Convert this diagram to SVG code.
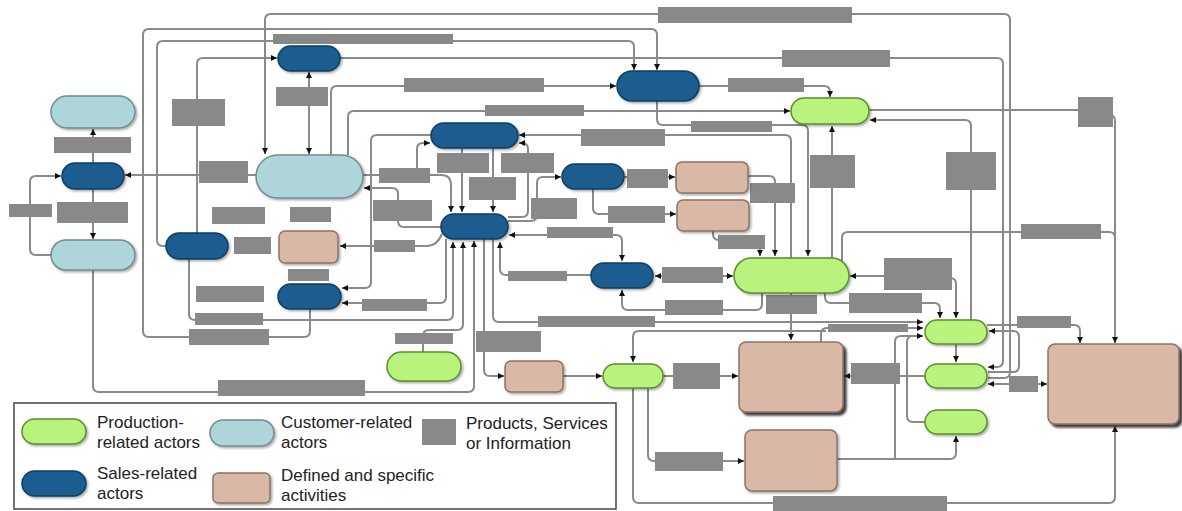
<svg xmlns="http://www.w3.org/2000/svg" width="1182" height="511" viewBox="0 0 1182 511">
<defs>
<marker id="a" viewBox="0 0 10 10" refX="10" refY="5" markerWidth="6" markerHeight="6" orient="auto-start-reverse" markerUnits="userSpaceOnUse"><path d="M0,0 L10,5 L0,10 z" fill="#111"/></marker>
<filter id="sh" x="-10%" y="-10%" width="130%" height="140%"><feDropShadow dx="1.5" dy="1.5" stdDeviation="1" flood-color="#000" flood-opacity="0.35"/></filter>
<filter id="sh2" x="-10%" y="-10%" width="130%" height="130%"><feDropShadow dx="3" dy="3" stdDeviation="0.8" flood-color="#222" flood-opacity="0.85"/></filter>
<style>
.c{fill:none;stroke:#8a8a8a;stroke-width:2;}
.e{marker-end:url(#a);}
.b{marker-start:url(#a);marker-end:url(#a);}
.g{fill:#898989;}
.cu{fill:#aed6da;stroke:#6f8c8f;stroke-width:1.5;filter:url(#sh);}
.sa{fill:#1a5b8e;stroke:#0e3f63;stroke-width:1.5;filter:url(#sh);}
.pr{fill:#b9f27c;stroke:#5c8f2a;stroke-width:1.5;filter:url(#sh);}
.ac{fill:#d9b9a5;stroke:#8c7264;stroke-width:1.5;filter:url(#sh);}
.ab{fill:#d9b9a5;stroke:#8c7264;stroke-width:1.5;filter:url(#sh2);}
.t{font-family:"Liberation Sans",Arial,sans-serif;font-size:17px;fill:#222;}
</style>
</defs>
<rect width="1182" height="511" fill="#fff"/>
<g id="connectors">
<path class="c e" d="M51,255 H36 Q30,255 30,249 V182 Q30,176 36,176 H61"/>
<path class="c e" d="M93,163 V129"/>
<path class="c e" d="M93,189 V239"/>
<path class="c e" d="M93,270 V386 Q93,392 99,392 H468 Q474,392 474,386 V241"/>
<path class="c e" d="M256,175 H125"/>
<path class="c e" d="M197,233 V64 Q197,58 203,58 H277"/>
<path class="c e" d="M340,58 H997 Q1003,58 1003,64 V361 Q1003,367 997,367 H988"/>
<path class="c e" d="M310,309 V331 Q310,337 304,337 H149 Q143,337 143,331 V35 Q143,29 149,29 H651 Q657,29 657,35 V70"/>
<path class="c e" d="M166,246 H163 Q157,246 157,240 V47 Q157,41 163,41 H628 Q634,41 634,47 V70"/>
<path class="c e" d="M988,378 H1004 Q1010,378 1010,372 V20 Q1010,14 1004,14 H271 Q265,14 265,20 V154"/>
<path class="c b" d="M309,72 V154"/>
<path class="c e" d="M331,155 V92 Q331,86 337,86 H616"/>
<path class="c e" d="M348,155 V117 Q348,111 354,111 H790"/>
<path class="c e" d="M431,135 H377 Q371,135 371,141 V282 Q371,288 365,288 H342"/>
<path class="c e" d="M363,175 H441 Q451,175 451,185 V212"/>
<path class="c e" d="M417,175 V149 Q417,143 423,143 H430"/>
<path class="c e" d="M441,227 H404 Q398,227 398,221 V194 Q398,188 392,188 H364"/>
<path class="c e" d="M442,234 Q437,246 427,246 H340"/>
<path class="c e" d="M446,239 V297 Q446,303 440,303 H342"/>
<path class="c e" d="M189,259 V314 Q189,320 195,320 H447 Q453,320 453,314 V242"/>
<path class="c" d="M310,309 V320"/>
<path class="c e" d="M423,352 V336 Q423,330 429,330 H457 Q463,330 463,324 V242"/>
<path class="c e" d="M484,239 V370 Q484,376 490,376 H504"/>
<path class="c e" d="M493,239 V316 Q493,322 499,322 H923"/>
<path class="c e" d="M591,275 H506 Q500,275 500,269 V242"/>
<path class="c b" d="M509,235 H616 Q622,235 622,241 V261"/>
<path class="c e" d="M508,221 H531 Q537,221 537,215 V183 Q537,177 543,177 H561"/>
<path class="c e" d="M508,217 H522 Q528,217 528,211 V149 Q528,143 522,143 H519"/>
<path class="c e" d="M462,148 V212"/>
<path class="c e" d="M493,148 V212"/>
<path class="c e" d="M791,258 V141 Q791,135 785,135 H519"/>
<path class="c e" d="M624,177 H675"/>
<path class="c e" d="M593,189 V208 Q593,214 599,214 H676"/>
<path class="c e" d="M748,176 H769 Q775,176 775,182 V256"/>
<path class="c e" d="M713,231 V234 Q713,240 719,240 H754 Q760,240 760,246 V256"/>
<path class="c e" d="M657,101 V119 Q657,125 663,125 H802 Q808,125 808,131 V256"/>
<path class="c e" d="M832,258 V126"/>
<path class="c e" d="M971,320 V126 Q971,120 965,120 H870"/>
<path class="c e" d="M699,86 H824 Q830,86 830,92 V97"/>
<path class="c" d="M869,110 H1078"/>
<path class="c e" d="M1110,115 Q1115,115 1115,121 V343"/>
<path class="c" d="M842,262 V238 Q842,232 848,232 H1109 Q1115,232 1115,238"/>
<path class="c b" d="M655,276 H733"/>
<path class="c e" d="M762,293 V304 Q762,310 756,310 H628 Q622,310 622,304 V290"/>
<path class="c e" d="M884,276 H850"/>
<path class="c e" d="M950,278 Q956,278 956,284 V318"/>
<path class="c e" d="M825,293 V297 Q825,303 831,303 H934 Q940,303 940,309 V318"/>
<path class="c e" d="M791,293 V340"/>
<path class="c e" d="M826,331 H639 Q633,331 633,337 V362"/>
<path class="c e" d="M821,342 V334 Q821,328 827,328 H923"/>
<path class="c e" d="M563,376 H602"/>
<path class="c e" d="M663,376 H738"/>
<path class="c e" d="M648,388 V455 Q648,461 654,461 H744"/>
<path class="c e" d="M633,388 V497 Q633,503 639,503 H1109 Q1115,503 1115,497 V426"/>
<path class="c e" d="M837,459 H950 Q956,459 956,453 V436"/>
<path class="c e" d="M895,459 V342 Q895,336 901,336 H923"/>
<path class="c" d="M925,422 H913 Q907,422 907,416 V342 Q907,336 913,336"/>
<path class="c e" d="M956,344 V362"/>
<path class="c e" d="M925,376 H844"/>
<path class="c b" d="M988,384 H1047"/>
<path class="c e" d="M987,325 H1074 Q1080,325 1080,331 V343"/>
<path class="c e" d="M988,372 H1013 Q1019,372 1019,366 V337 Q1019,331 1013,331 H989"/>
</g>
<g id="items">
<rect id="i1" class="g" x="9" y="204" width="43" height="13"/>
<rect id="i2" class="g" x="54" y="137" width="77" height="16"/>
<rect id="i3" class="g" x="57" y="202" width="71" height="21"/>
<rect id="i4" class="g" x="172" y="99" width="53" height="27"/>
<rect id="i5" class="g" x="199" y="161" width="49" height="22"/>
<rect id="i6" class="g" x="212" y="207" width="53" height="17"/>
<rect id="i7" class="g" x="234" y="237" width="37" height="17"/>
<rect id="i8" class="g" x="290" y="207" width="41" height="15"/>
<rect id="i9" class="g" x="288" y="269" width="41" height="12"/>
<rect id="i10" class="g" x="196" y="286" width="68" height="16"/>
<rect id="i11" class="g" x="195" y="313" width="68" height="12"/>
<rect id="i12" class="g" x="189" y="329" width="80" height="16"/>
<rect id="i13" class="g" x="218" y="380" width="147" height="16"/>
<rect id="i14" class="g" x="276" y="87" width="52" height="19"/>
<rect id="i15" class="g" x="273" y="34" width="180" height="10"/>
<rect id="i16" class="g" x="658" y="7" width="194" height="16"/>
<rect id="i17" class="g" x="404" y="78" width="140" height="14"/>
<rect id="i18" class="g" x="485" y="105" width="99" height="11"/>
<rect id="i19" class="g" x="581" y="129" width="84" height="17"/>
<rect id="i20" class="g" x="691" y="121" width="81" height="11"/>
<rect id="i21" class="g" x="728" y="78" width="76" height="14"/>
<rect id="i22" class="g" x="782" y="50" width="108" height="17"/>
<rect id="i23" class="g" x="379" y="168" width="51" height="15"/>
<rect id="i24" class="g" x="373" y="200" width="59" height="21"/>
<rect id="i25" class="g" x="374" y="240" width="41" height="12"/>
<rect id="i26" class="g" x="362" y="299" width="65" height="12"/>
<rect id="i27" class="g" x="395" y="333" width="58" height="11"/>
<rect id="i28" class="g" x="437" y="153" width="52" height="20"/>
<rect id="i29" class="g" x="501" y="153" width="53" height="20"/>
<rect id="i30" class="g" x="469" y="177" width="47" height="23"/>
<rect id="i31" class="g" x="531" y="198" width="46" height="21"/>
<rect id="i32" class="g" x="547" y="227" width="66" height="11"/>
<rect id="i33" class="g" x="508" y="271" width="59" height="10"/>
<rect id="i34" class="g" x="538" y="316" width="117" height="11"/>
<rect id="i35" class="g" x="476" y="331" width="65" height="21"/>
<rect id="i36" class="g" x="627" y="169" width="41" height="19"/>
<rect id="i37" class="g" x="608" y="206" width="57" height="17"/>
<rect id="i38" class="g" x="750" y="183" width="45" height="20"/>
<rect id="i39" class="g" x="718" y="235" width="47" height="14"/>
<rect id="i40" class="g" x="810" y="155" width="45" height="33"/>
<rect id="i41" class="g" x="946" y="152" width="50" height="38"/>
<rect id="i42" class="g" x="1078" y="97" width="35" height="30"/>
<rect id="i43" class="g" x="1021" y="224" width="80" height="15"/>
<rect id="i44" class="g" x="662" y="267" width="61" height="16"/>
<rect id="i45" class="g" x="665" y="300" width="58" height="15"/>
<rect id="i46" class="g" x="766" y="295" width="51" height="19"/>
<rect id="i47" class="g" x="849" y="293" width="73" height="20"/>
<rect id="i48" class="g" x="884" y="258" width="68" height="32"/>
<rect id="i49" class="g" x="828" y="324" width="80" height="8"/>
<rect id="i50" class="g" x="1017" y="316" width="54" height="12"/>
<rect id="i51" class="g" x="851" y="363" width="49" height="21"/>
<rect id="i52" class="g" x="1009" y="376" width="29" height="16"/>
<rect id="i53" class="g" x="673" y="363" width="47" height="26"/>
<rect id="i54" class="g" x="655" y="452" width="68" height="19"/>
<rect id="i55" class="g" x="773" y="496" width="174" height="15"/>
</g>
<g id="n-cust-top"><rect class="cu" x="51" y="96" width="84" height="32" rx="16"/></g>
<g id="n-sales-left"><rect class="sa" x="62" y="163" width="62" height="26" rx="13"/></g>
<g id="n-cust-bottom"><rect class="cu" x="51" y="240" width="84" height="30" rx="15"/></g>
<g id="n-sales-top"><rect class="sa" x="278" y="46" width="62" height="25" rx="12.5"/></g>
<g id="n-cust-center"><rect class="cu" x="256" y="155" width="107" height="43" rx="21.5"/></g>
<g id="n-sales-left2"><rect class="sa" x="166" y="233" width="62" height="26" rx="13"/></g>
<g id="n-act-small"><rect class="ac" x="279" y="231" width="59" height="32" rx="6"/></g>
<g id="n-sales-bl"><rect class="sa" x="278" y="284" width="63" height="25" rx="12.5"/></g>
<g id="n-sales-midtop"><rect class="sa" x="431" y="123" width="87" height="25" rx="12.5"/></g>
<g id="n-sales-center"><rect class="sa" x="441" y="214" width="67" height="25" rx="12.5"/></g>
<g id="n-sales-right"><rect class="sa" x="562" y="164" width="62" height="25" rx="12.5"/></g>
<g id="n-sales-topright"><rect class="sa" x="617" y="71" width="82" height="30" rx="15"/></g>
<g id="n-act-1"><rect class="ac" x="676" y="162" width="72" height="31" rx="6"/></g>
<g id="n-act-2"><rect class="ac" x="677" y="200" width="72" height="31" rx="6"/></g>
<g id="n-prod-top"><rect class="pr" x="791" y="98" width="78" height="26" rx="13"/></g>
<g id="n-sales-lower"><rect class="sa" x="591" y="263" width="62" height="25" rx="12.5"/></g>
<g id="n-prod-big"><rect class="pr" x="734" y="258" width="115" height="35" rx="17.5"/></g>
<g id="n-prod-left"><rect class="pr" x="387" y="352" width="74" height="29" rx="14.5"/></g>
<g id="n-act-tansmall"><rect class="ac" x="505" y="361" width="58" height="31" rx="6"/></g>
<g id="n-prod-mid"><rect class="pr" x="603" y="364" width="60" height="24" rx="12"/></g>
<g id="n-act-bigmid"><rect class="ab" x="739" y="342" width="104" height="70" rx="7"/></g>
<g id="n-act-lowmid"><rect class="ac" x="745" y="430" width="92" height="61" rx="7"/></g>
<g id="n-prod-r1"><rect class="pr" x="925" y="320" width="62" height="24" rx="12"/></g>
<g id="n-prod-r2"><rect class="pr" x="925" y="364" width="62" height="24" rx="12"/></g>
<g id="n-prod-r3"><rect class="pr" x="925" y="410" width="62" height="24" rx="12"/></g>
<g id="n-act-bigright"><rect class="ab" x="1048" y="344" width="131" height="80" rx="7"/></g>
<g id="legend">
<rect x="14" y="403" width="602" height="106" fill="#fff" stroke="#444" stroke-width="1.5"/>
<rect class="pr" x="22" y="419" width="64" height="25" rx="12.5"/>
<text class="t" x="97" y="428">Production-</text>
<text class="t" x="97" y="448">related actors</text>
<rect class="cu" x="210" y="420" width="64" height="26" rx="13"/>
<text class="t" x="281" y="428">Customer-related</text>
<text class="t" x="281" y="448">actors</text>
<rect class="g" x="422" y="419" width="34" height="26"/>
<text class="t" x="466" y="429">Products, Services</text>
<text class="t" x="466" y="449">or Information</text>
<rect class="sa" x="22" y="471" width="64" height="25" rx="12.5"/>
<text class="t" x="97" y="479">Sales-related</text>
<text class="t" x="97" y="499">actors</text>
<rect class="ac" x="213" y="473" width="57" height="30" rx="5"/>
<text class="t" x="281" y="481">Defined and specific</text>
<text class="t" x="281" y="501">activities</text>
</g>
</svg>
